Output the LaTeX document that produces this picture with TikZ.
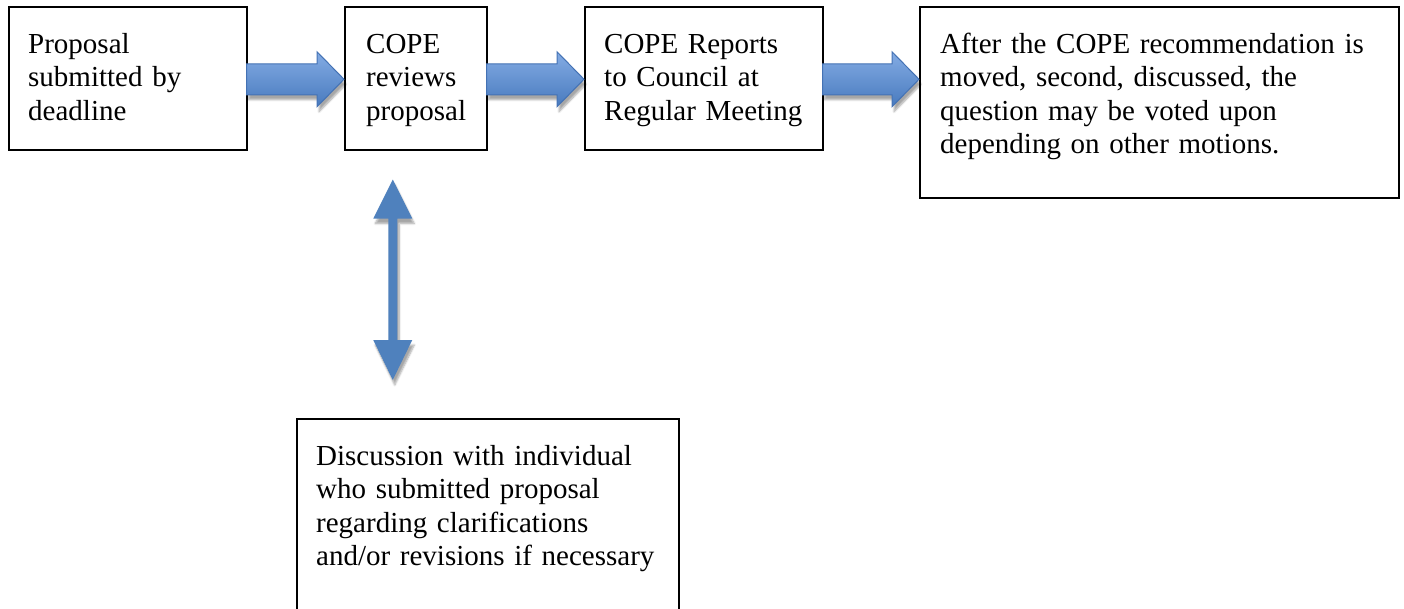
\documentclass[tikz,border=0pt]{standalone}
\usepackage{fontspec}
\setmainfont{Liberation Serif}
\usetikzlibrary{calc,shadows.blur}
\definecolor{arrowlight}{RGB}{132,172,228}
\definecolor{arrowdark}{RGB}{72,122,190}
\definecolor{arrowedge}{RGB}{68,114,180}
\definecolor{arrowsolid}{RGB}{79,129,189}
\tikzset{
  box/.style={draw=black, line width=1.5pt, anchor=north west, inner sep=0pt},
  txt/.style={anchor=base west, inner sep=0pt, text width=460pt, align=left,
    font=\fontsize{29}{33.5}\selectfont},
  softshadow/.style={blur shadow={shadow xshift=2pt, shadow yshift=-5pt,
    shadow blur steps=6, shadow opacity=35}},
  blockarrow/.style={draw=arrowedge, line width=1pt, top color=arrowlight,
    bottom color=arrowdark, softshadow},
  dblarrow/.style={fill=arrowsolid, softshadow},
}
\newcommand\blockarr[2]{%
  \path[blockarrow] ($(#1.east)+(-1,-14.5)$) -- ($(#2.west |- #1.east)+(-27,-14.5)$)
    -- ($(#2.west |- #1.east)+(-27,-26.5)$) -- ($(#2.west |- #1.east)+(0,1)$)
    -- ($(#2.west |- #1.east)+(-27,28.5)$) -- ($(#2.west |- #1.east)+(-27,16.5)$)
    -- ($(#1.east)+(-1,16.5)$) -- cycle;}
\begin{document}
\begin{tikzpicture}[x=1pt,y=-1pt]
\useasboundingbox (0,0) rectangle (1404,608);
\clip (0,0) rectangle (1404,608);
% boxes
\node[box, minimum width=238pt, minimum height=143pt] (b1) at (8,6) {};
\node[box, minimum width=142pt, minimum height=143pt] (b2) at (344,6) {};
\node[box, minimum width=238pt, minimum height=143pt] (b3) at (584,6) {};
\node[box, minimum width=479pt, minimum height=191pt] (b4) at (919,6) {};
\node[box, minimum width=382pt, minimum height=260pt] (b5) at (296,418) {};
% texts
\node[txt] (t1) at ($(b1.north west)+(20,47)$) {Proposal\\submitted by\\deadline};
\node[txt] (t2) at ($(b2.north west)+(22,47)$) {COPE\\reviews\\proposal};
\node[txt] (t3) at ($(b3.north west)+(20,47)$) {COPE Reports\\to Council at\\Regular Meeting};
\node[txt] (t4) at ($(b4.north west)+(21,47)$) {After the COPE recommendation is\\moved, second, discussed, the\\question may be voted upon\\depending on other motions.};
\node[txt] (t5) at ($(b5.north west)+(20,47)$) {Discussion with individual\\who submitted proposal\\regarding clarifications\\and/or revisions if necessary};
% horizontal block arrows
\blockarr{b1}{b2}
\blockarr{b2}{b3}
\blockarr{b3}{b4}
% vertical double arrow
\coordinate (vt) at ($(b2.south)+(-23,29)$);
\coordinate (vb) at ($(vt |- b5.north)+(0,-38)$);
\path[dblarrow] (vt) -- ($(vt)+(19.5,39)$) -- ($(vt)+(4.5,39)$)
  -- ($(vb)+(4.5,-40)$) -- ($(vb)+(19.5,-40)$) -- (vb)
  -- ($(vb)+(-19.5,-40)$) -- ($(vb)+(-4.5,-40)$)
  -- ($(vt)+(-4.5,39)$) -- ($(vt)+(-19.5,39)$) -- cycle;
\end{tikzpicture}
\end{document}
